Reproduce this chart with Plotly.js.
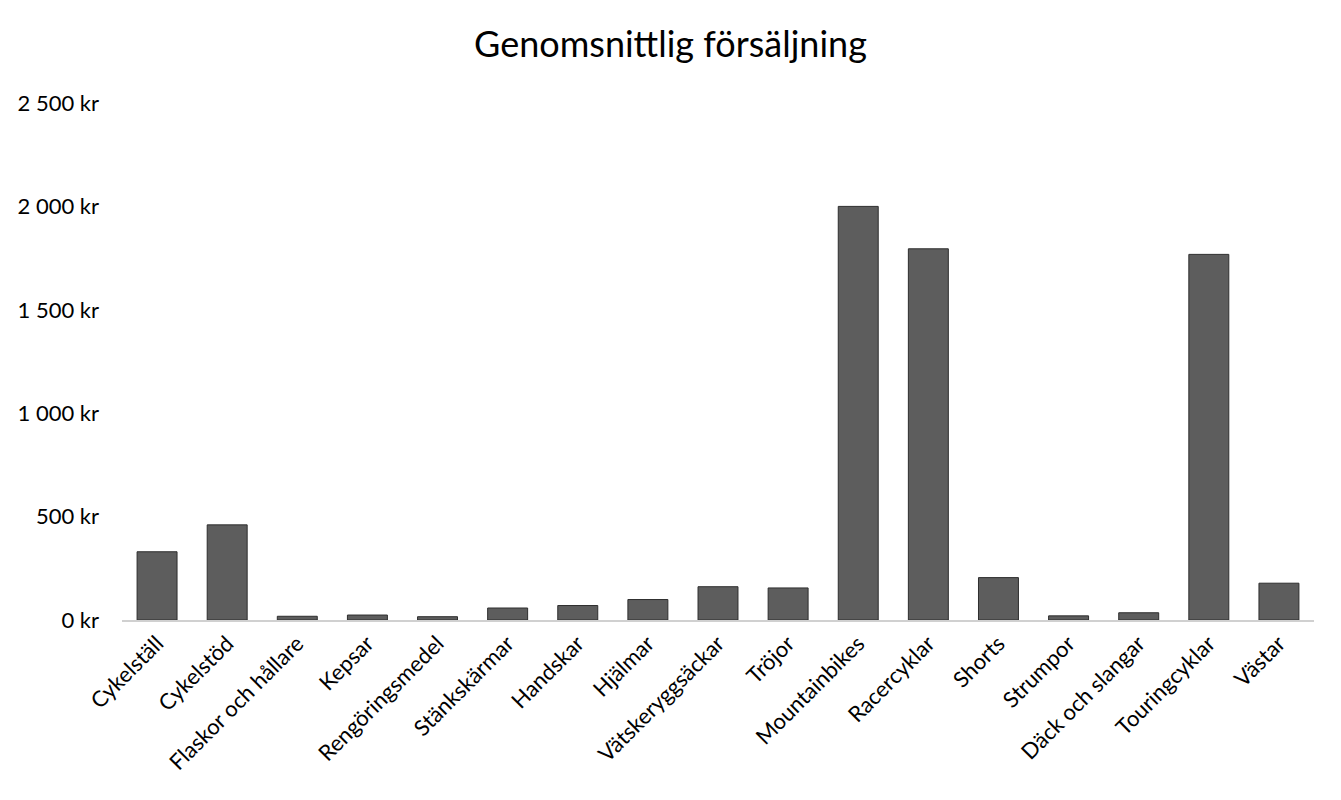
<!DOCTYPE html>
<html>
<head>
<meta charset="utf-8">
<script src="https://cdn.plot.ly/plotly-3.0.1.min.js"></script>
<style>
  html, body { margin: 0; padding: 0; background: #fff; }
  #chart { width: 1341px; height: 800px; }
</style>
</head>
<body>
<div id="chart"></div>
<script>
var kategorier = ["Cykelställ", "Cykelstöd", "Flaskor och hållare", "Kepsar", "Rengöringsmedel",
  "Stänkskärmar", "Handskar", "Hjälmar", "Vätskeryggsäckar", "Tröjor", "Mountainbikes",
  "Racercyklar", "Shorts", "Strumpor", "Däck och slangar", "Touringcyklar", "Västar"];
var medelForsaljning = [330, 460, 18, 24, 16, 58, 70, 99, 161, 155, 2000, 1795, 205, 20, 35, 1768, 178];
var yTicks = [0, 500, 1000, 1500, 2000, 2500];
var yTickText = ["0 kr", "500 kr", "1 000 kr", "1 500 kr", "2 000 kr", "2 500 kr"];

var fontFamily = "Lato, 'Open Sans', sans-serif";

var plotdata = [{
  x: kategorier,
  y: medelForsaljning,
  type: "bar",
  marker: { color: "#5d5d5d", line: { color: "#2e2e2e", width: 1 } },
  hoverinfo: "x+y"
}];

var layout = {
  width: 1341,
  height: 800,
  paper_bgcolor: "#ffffff",
  plot_bgcolor: "#ffffff",
  margin: { l: 122, r: 27, t: 103, b: 180 },
  showlegend: false,
  bargap: 0.43,
  font: { family: fontFamily, color: "#000000", size: 22 },
  title: {
    text: "Genomsnittlig försäljning",
    x: 0.5,
    xref: "container",
    xanchor: "center",
    y: 0.944,
    yref: "container",
    yanchor: "middle",
    font: { family: fontFamily, size: 36, color: "#000000" }
  },
  xaxis: {
    type: "category",
    tickangle: -45,
    showgrid: false,
    showline: true,
    linecolor: "#d0d0d0",
    linewidth: 2,
    ticks: "",
    tickfont: { size: 22 },
    zeroline: false
  },
  yaxis: {
    range: [0, 2500],
    tickvals: yTicks,
    ticktext: yTickText,
    showgrid: false,
    zeroline: false,
    showline: false,
    ticks: "",
    ticklabelstandoff: 22,
    tickfont: { size: 22 }
  }
};

Plotly.newPlot("chart", plotdata, layout, { displayModeBar: false, staticPlot: true });
</script>
</body>
</html>
